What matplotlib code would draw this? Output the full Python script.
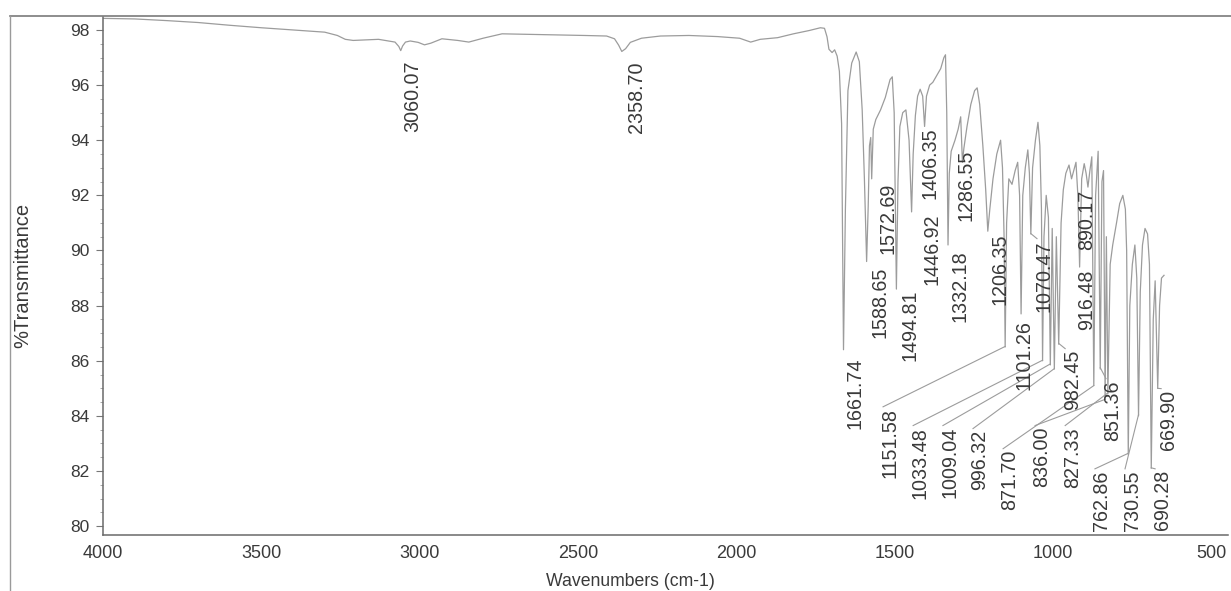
import numpy as np
import matplotlib
matplotlib.use("Agg")
import matplotlib.pyplot as plt
from matplotlib.lines import Line2D
from matplotlib.ticker import MultipleLocator

plt.rcParams['font.family'] = ['Liberation Sans', 'DejaVu Sans']

# spectrum (wavenumber cm-1, %T)
wavenumber = [4000, 3900, 3800, 3700, 3600, 3500, 3400, 3300, 3260, 3235, 3210, 3170, 3130, 3100,
              3078, 3066, 3060, 3054, 3045, 3030, 3005, 2985, 2965, 2930, 2880, 2845, 2800, 2740,
              2650, 2560, 2480, 2410, 2385, 2372, 2362, 2350, 2335, 2300, 2240, 2150, 2060, 1990,
              1955, 1925, 1870, 1820, 1770, 1735, 1722, 1714, 1708, 1698, 1690, 1682, 1675, 1668,
              1662, 1656, 1648, 1636, 1622, 1612, 1603, 1596, 1589, 1584, 1580, 1576, 1573, 1568,
              1560, 1545, 1530, 1515, 1508, 1502, 1495, 1490, 1484, 1475, 1465, 1455, 1447, 1442,
              1435, 1428, 1420, 1412, 1406, 1400, 1390, 1380, 1370, 1355, 1345, 1340, 1336, 1332,
              1328, 1322, 1310, 1300, 1292, 1289, 1286.5, 1282, 1272, 1260, 1248, 1240, 1232, 1222,
              1213, 1206.4, 1200, 1190, 1178, 1166, 1160, 1155, 1151.6, 1147, 1140, 1130, 1120, 1112,
              1106, 1101.3, 1096, 1088, 1080, 1075, 1070.5, 1065, 1056, 1048, 1042, 1037, 1033.5,
              1029, 1022, 1015, 1009, 1003, 996.3, 990, 982.5, 975, 968, 960, 950, 942, 935, 928,
              922, 916.5, 910, 902, 896, 890.2, 884, 878, 871.7, 866, 858, 851.4, 846, 841, 836,
              832, 827.3, 820, 812, 800, 790, 780, 772, 768, 762.9, 758, 750, 742, 736, 730.5, 725,
              718, 710, 702, 696, 690.3, 684, 678, 669.9, 664, 658, 650]
transmittance = [98.42, 98.40, 98.34, 98.27, 98.17, 98.08, 98.00, 97.92, 97.80, 97.66, 97.62, 97.64,
                 97.66, 97.60, 97.56, 97.40, 97.25, 97.42, 97.56, 97.60, 97.55, 97.46, 97.52, 97.68,
                 97.62, 97.56, 97.70, 97.86, 97.84, 97.82, 97.80, 97.78, 97.68, 97.45, 97.22, 97.32,
                 97.55, 97.70, 97.78, 97.80, 97.76, 97.70, 97.56, 97.66, 97.72, 97.86, 97.98, 98.08,
                 98.06, 97.75, 97.30, 97.18, 97.28, 97.05, 96.50, 94.60, 86.40, 91.50, 95.80, 96.80,
                 97.20, 96.85, 95.10, 92.60, 89.60, 91.60, 93.80, 94.10, 92.60, 94.40, 94.75, 95.10,
                 95.55, 96.20, 96.30, 95.00, 88.60, 92.50, 94.50, 95.00, 95.10, 94.00, 91.40, 93.50,
                 94.90, 95.60, 95.85, 95.60, 94.50, 95.60, 96.00, 96.10, 96.30, 96.60, 97.00, 97.10,
                 95.00, 90.20, 92.80, 93.60, 94.00, 94.40, 94.85, 94.00, 93.20, 93.70, 94.50, 95.30,
                 95.80, 95.90, 95.30, 93.80, 92.20, 90.70, 91.50, 92.60, 93.50, 94.00, 93.00, 90.50,
                 86.50, 91.00, 92.60, 92.40, 92.90, 93.20, 92.00, 87.70, 92.00, 93.00, 93.65, 92.80,
                 90.60, 93.00, 94.00, 94.65, 93.80, 91.50, 86.00, 90.50, 92.00, 91.20, 85.85, 90.80,
                 85.70, 90.50, 86.60, 91.00, 92.20, 92.80, 93.10, 92.60, 92.90, 93.20, 92.00, 89.40,
                 92.60, 93.15, 92.80, 92.30, 92.90, 93.40, 85.10, 92.00, 93.60, 85.70, 92.50, 92.90,
                 84.60, 90.50, 84.80, 89.50, 90.20, 91.00, 91.70, 92.00, 91.50, 90.00, 82.60, 88.00,
                 89.50, 90.20, 89.00, 84.00, 88.50, 90.20, 90.80, 90.60, 89.50, 82.10, 87.50, 88.90,
                 85.00, 88.00, 89.00, 89.10]

# peak labels
peaks = [3060.07, 2358.70, 1661.74, 1588.65, 1572.69, 1494.81, 1446.92, 1406.35, 1332.18,
         1286.55, 1206.35, 1151.58, 1101.26, 1070.47, 1033.48, 1009.04, 996.32, 982.45,
         916.48, 890.17, 871.70, 851.36, 836.00, 827.33, 762.86, 730.55, 690.28, 669.90]

# where each label sits (centre x in cm-1, top of text in %T)
label_x = [3021, 2314, 1626, 1547, 1521, 1452, 1382, 1389, 1294, 1275, 1168, 1515, 1092, 1029,
           1420, 1326, 1231, 940, 893, 893, 1136, 811, 1035, 940, 846, 751, 656, 637]
label_top = [96.91, 96.84, 86.13, 89.40, 92.45, 88.57, 91.36, 94.48, 90.00, 93.65, 90.63, 84.28,
             87.48, 90.38, 83.60, 83.60, 83.49, 86.39, 89.30, 92.20, 82.76, 85.30, 83.60, 83.60,
             82.03, 82.03, 82.03, 84.94]
with_leader = [1151.58, 1033.48, 1009.04, 996.32, 982.45, 871.70, 851.36, 836.00, 827.33,
               762.86, 730.55, 690.28, 669.90, 1070.47]

W, H = 1231, 591
fig = plt.figure(figsize=(W / 100, H / 100), dpi=100)
ax = fig.add_axes([103 / W, 1 - 535 / H, (1228 - 103) / W, (535 - 17) / H])

line_col = '#9c9c9c'
txt_col = '#3a3a3a'

ax.plot(wavenumber, transmittance, color=line_col, lw=0.9)

ax.set_xlim(4000, 448)
ax.set_ylim(79.68, 98.47)
ax.set_xticks(range(4000, 499, -500))
ax.set_yticks(range(80, 99, 2))
ax.yaxis.set_minor_locator(MultipleLocator(0.5))
ax.tick_params(axis='x', length=0, pad=7, labelsize=13, labelcolor=txt_col)
ax.tick_params(axis='y', which='major', length=5, width=0.8, color='#777777', pad=5,
               labelsize=12.5, labelcolor=txt_col)
ax.tick_params(axis='y', which='minor', length=2.5, width=0.6, color='#999999')
for s in ['top', 'right']:
    ax.spines[s].set_visible(False)
for s in ['left', 'bottom']:
    ax.spines[s].set_color('#6a6a6a')
    ax.spines[s].set_linewidth(1.1)

# leader starts at the label's top-left corner, ~7 px left of its centre
px = (4000 - 448) / (1228 - 103)
for wn, lx, lt in zip(peaks, label_x, label_top):
    ax.text(lx, lt, f'{wn:.2f}', rotation=90, ha='center', va='top',
            fontsize=14.2, color=txt_col)
    if wn in with_leader:
        dip = np.interp(wn, wavenumber[::-1], transmittance[::-1])
        ax.plot([lx + 7 * px, wn], [lt + 0.05, dip], color=line_col, lw=0.8)

# scan frame
fig.add_artist(Line2D([10 / W, 1], [1 - 16 / H, 1 - 16 / H], color='#7a7a7a', lw=1.2))
fig.add_artist(Line2D([10 / W, 10 / W], [0, 1 - 16 / H], color='#9a9a9a', lw=1.0))

fig.text(23 / W, 1 - 275 / H, '%Transmittance', rotation=90, ha='center', va='center',
         fontsize=14.5, color=txt_col)
fig.text(630 / W, 1 - 582 / H, 'Wavenumbers (cm-1)', ha='center', va='center',
         fontsize=12.7, color=txt_col)

fig.savefig('out.png', dpi=100, facecolor='white')
